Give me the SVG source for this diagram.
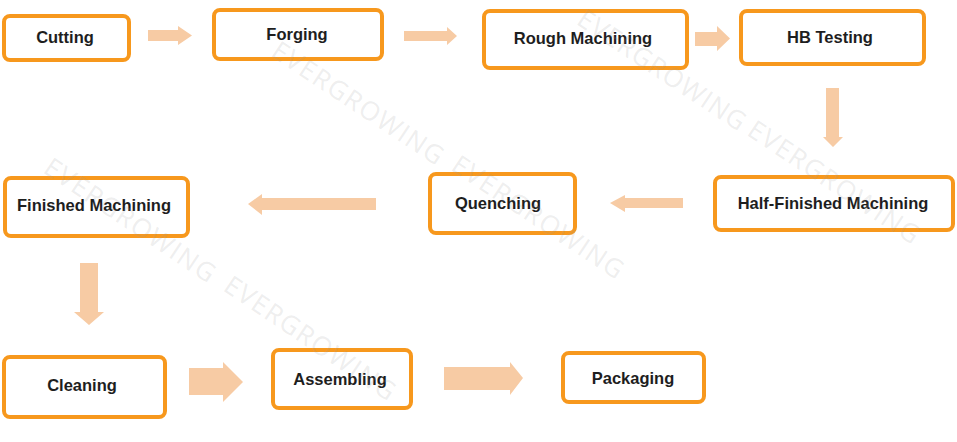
<svg xmlns="http://www.w3.org/2000/svg" width="957" height="442" viewBox="0 0 957 442">
<style>
.box{fill:#fff;stroke:#F7981D;stroke-width:4}
.lbl{font-family:"Liberation Sans",Arial,sans-serif;font-weight:bold;font-size:16.5px;fill:#1e1e1e;text-anchor:middle}
.arr{fill:#F7CBA4}
.wm{font-family:"Open Sans","Liberation Sans",sans-serif;font-size:26px;fill:#9a9a9a;fill-opacity:0.18;text-anchor:middle}
</style>
<rect width="957" height="442" fill="#fff"/>
<g id="connectors">
<polygon class="arr" points="148,30 178,30 178,26 192,35.5 178,45 178,41 148,41"/>
<polygon class="arr" points="404,31 447,31 447,27 457,36 447,45 447,41 404,41"/>
<polygon class="arr" points="695,32 717,32 717,26 730,38.5 717,51 717,46 695,46"/>
<polygon class="arr" points="826,88 839,88 839,137 843,137 833,147 823,137 826,137"/>
<polygon class="arr" points="683,198 625,198 625,195 610,203 625,212 625,208 683,208"/>
<polygon class="arr" points="376,198 262,198 262,194 248,204 262,215 262,210 376,210"/>
<polygon class="arr" points="80,263 98,263 98,312 104,312 89,325 74,312 80,312"/>
<polygon class="arr" points="189,368 223,368 223,362 243,382 223,402 223,395 189,395"/>
<polygon class="arr" points="444,367 510,367 510,362 523,378 510,395 510,390 444,390"/>
</g>
<g id="cutting"><rect class="box" x="4" y="16" width="125" height="44" rx="6"/><text class="lbl" x="65" y="37" dy="0.35em">Cutting</text></g>
<g id="forging"><rect class="box" x="214" y="10" width="168" height="49" rx="6"/><text class="lbl" x="297" y="34" dy="0.35em">Forging</text></g>
<g id="rough-machining"><rect class="box" x="484" y="11" width="203" height="57" rx="6"/><text class="lbl" x="583" y="38" dy="0.35em">Rough Machining</text></g>
<g id="hb-testing"><rect class="box" x="741" y="11" width="183" height="53" rx="6"/><text class="lbl" x="830" y="37" dy="0.35em">HB Testing</text></g>
<g id="half-finished-machining"><rect class="box" x="715" y="177" width="238" height="53" rx="6"/><text class="lbl" x="833" y="203" dy="0.35em">Half-Finished Machining</text></g>
<g id="quenching"><rect class="box" x="430" y="174" width="145" height="59" rx="6"/><text class="lbl" x="498" y="203" dy="0.35em">Quenching</text></g>
<g id="finished-machining"><rect class="box" x="5" y="178" width="183" height="58" rx="6"/><text class="lbl" x="94" y="205" dy="0.35em">Finished Machining</text></g>
<g id="cleaning"><rect class="box" x="4" y="357" width="161" height="60" rx="6"/><text class="lbl" x="82" y="385" dy="0.35em">Cleaning</text></g>
<g id="assembling"><rect class="box" x="273" y="350" width="138" height="58" rx="6"/><text class="lbl" x="340" y="379" dy="0.35em">Assembling</text></g>
<g id="packaging"><rect class="box" x="563" y="353" width="141" height="49" rx="6"/><text class="lbl" x="633" y="378" dy="0.35em">Packaging</text></g>
<g id="watermark">
<text class="wm" transform="translate(358,103) rotate(33.6)" dy="0.35em" textLength="200">EVERGROWING</text>
<text class="wm" transform="translate(538,217) rotate(33.6)" dy="0.35em" textLength="200">EVERGROWING</text>
<text class="wm" transform="translate(130,220) rotate(34)" dy="0.35em" textLength="200">EVERGROWING</text>
<text class="wm" transform="translate(310,338) rotate(34)" dy="0.35em" textLength="200">EVERGROWING</text>
<text class="wm" transform="translate(662,70) rotate(33.6)" dy="0.35em" textLength="196">EVERGROWING</text>
<text class="wm" transform="translate(834,182) rotate(33.6)" dy="0.35em" textLength="200">EVERGROWING</text>
</g>
</svg>
